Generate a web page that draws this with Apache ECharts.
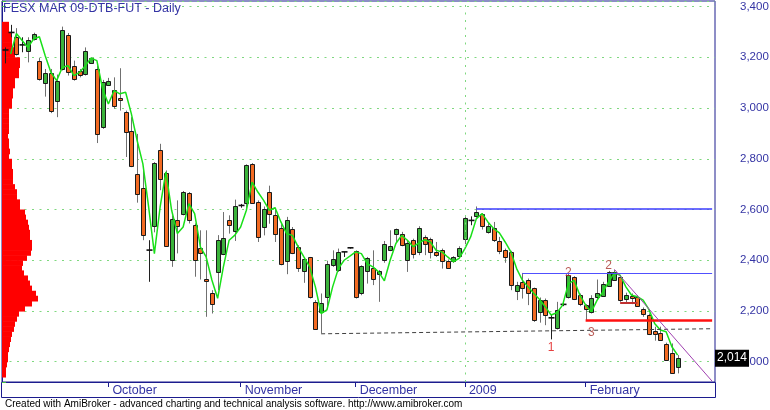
<!DOCTYPE html>
<html><head><meta charset="utf-8">
<script src="https://cdn.jsdelivr.net/npm/echarts@6/dist/echarts.min.js"></script>
<style>html,body{margin:0;padding:0;background:#fff}#c{width:770px;height:410px}</style>
</head><body><div id="c"></div>
<script>
// ---- categories (trading days + empty right margin) ----
const dates = [
'2008-09-05','2008-09-08','2008-09-09','2008-09-10','2008-09-11','2008-09-12','2008-09-15','2008-09-16','2008-09-17','2008-09-18','2008-09-19','2008-09-22','2008-09-23','2008-09-24','2008-09-25','2008-09-26','2008-09-29','2008-09-30',
'2008-10-01','2008-10-02','2008-10-03','2008-10-06','2008-10-07','2008-10-08','2008-10-09','2008-10-10','2008-10-13','2008-10-14','2008-10-15','2008-10-16','2008-10-17','2008-10-20','2008-10-21','2008-10-22','2008-10-23','2008-10-24','2008-10-27','2008-10-28','2008-10-29','2008-10-30','2008-10-31',
'2008-11-03','2008-11-04','2008-11-05','2008-11-06','2008-11-07','2008-11-10','2008-11-11','2008-11-12','2008-11-13','2008-11-14','2008-11-17','2008-11-18','2008-11-19','2008-11-20','2008-11-21','2008-11-24','2008-11-25','2008-11-26','2008-11-27','2008-11-28',
'2008-12-01','2008-12-02','2008-12-03','2008-12-04','2008-12-05','2008-12-08','2008-12-09','2008-12-10','2008-12-11','2008-12-12','2008-12-15','2008-12-16','2008-12-17','2008-12-18','2008-12-19','2008-12-22','2008-12-23','2008-12-29','2008-12-30',
'2009-01-02','2009-01-05','2009-01-06','2009-01-07','2009-01-08','2009-01-09','2009-01-12','2009-01-13','2009-01-14','2009-01-15','2009-01-16','2009-01-19','2009-01-20','2009-01-21','2009-01-22','2009-01-23','2009-01-26','2009-01-27','2009-01-28','2009-01-29','2009-01-30',
'2009-02-02','2009-02-03','2009-02-04','2009-02-05','2009-02-06','2009-02-09','2009-02-10','2009-02-11','2009-02-12','2009-02-13','2009-02-16','2009-02-17','2009-02-18','2009-02-19','2009-02-20','2009-02-23','2009-02-24',
'2009-02-25','2009-02-26','2009-02-27','2009-03-02','2009-03-03','2009-03-04'
];
// ---- OHLC ----
const opens = [3229,3298,3281,3249,3226,3272,3187,3098,3138,3030,3154,3289,3167,3148,3132,3178,3154,2925,3093,3072,3040,2984,2909,2739,2686,2440,2534,2836,2745,2403,2560,2584,2665,2538,2450,2328,2269,2354,2424,2560,2512,2616,2623,2780,2630,2531,2669,2577,2529,2394,2523,2453,2354,2411,2236,2197,2253,2380,2361,2433,2449,2436,2269,2354,2371,2345,2398,2439,2502,2505,2400,2479,2433,2492,2483,2433,2442,2398,2394,2420,2485,2557,2573,2581,2511,2528,2476,2442,2433,2279,2315,2321,2289,2197,2245,2173,2131,2226,2256,2332,2262,2223,2197,2253,2262,2298,2321,2334,2245,2258,2256,2206,2184,2122,2114,2070,2033,1978];
const highs = [3239,3328,3315,3279,3279,3297,3197,3154,3154,3132,3321,3296,3187,3154,3239,3200,3167,3111,3119,3121,3157,2990,2964,2898,2767,2479,2787,2859,2754,2577,2636,2673,2669,2545,2518,2518,2282,2499,2590,2577,2639,2622,2778,2783,2636,2612,2694,2607,2542,2571,2531,2459,2407,2413,2243,2269,2398,2439,2446,2433,2452,2439,2380,2413,2439,2361,2476,2518,2525,2512,2476,2485,2534,2498,2489,2472,2446,2403,2416,2455,2577,2573,2612,2586,2547,2551,2492,2446,2437,2315,2350,2328,2292,2253,2249,2184,2236,2240,2348,2337,2269,2227,2262,2324,2315,2358,2361,2341,2272,2269,2262,2214,2190,2138,2138,2075,2072,2026];
const lows = [3176,3279,3207,3220,3180,3266,3108,3045,2980,2964,3148,3128,3108,3121,3128,3174,2862,2918,3089,2997,2990,2807,2767,2627,2479,2315,2510,2676,2453,2374,2427,2577,2545,2335,2324,2177,2190,2282,2420,2505,2476,2607,2603,2623,2472,2498,2544,2472,2380,2345,2424,2354,2311,2249,2125,2112,2217,2374,2354,2413,2446,2249,2262,2308,2302,2236,2390,2436,2472,2455,2354,2407,2420,2420,2407,2413,2367,2367,2390,2416,2463,2538,2568,2521,2505,2472,2424,2390,2282,2243,2249,2223,2157,2154,2144,2088,2127,2219,2249,2243,2219,2164,2190,2245,2258,2295,2319,2236,2232,2227,2216,2177,2105,2083,2085,2004,1952,1954];
const closes = [3229,3298,3213,3249,3268,3292,3115,3137,2988,3108,3308,3145,3115,3132,3224,3197,2896,3102,3108,3010,3032,2905,2770,2662,2499,2440,2784,2721,2457,2564,2538,2669,2560,2400,2430,2322,2227,2479,2489,2542,2612,2616,2774,2626,2492,2603,2581,2502,2387,2557,2429,2371,2403,2253,2131,2232,2384,2403,2433,2433,2449,2253,2377,2407,2328,2358,2463,2455,2522,2463,2468,2424,2529,2463,2433,2420,2400,2371,2411,2450,2568,2557,2590,2534,2534,2481,2437,2416,2302,2302,2292,2269,2164,2245,2184,2173,2203,2226,2341,2245,2227,2206,2253,2269,2308,2354,2354,2243,2262,2249,2219,2188,2109,2109,2088,2007,1954,2014];
// ---- green moving-average line ----
const maLine = [null,3213,3294,3266,3239,3272,3281,3207,3141,3108,3161,3167,3128,3141,3167,3197,3187,3075,3016,3069,3056,3062,2977,2872,2780,2610,2426,2610,2748,2597,2505,2531,2623,2584,2453,2413,2322,2250,2374,2479,2499,2531,2597,2708,2669,2636,2597,2607,2551,2505,2498,2453,2413,2374,2295,2190,2204,2295,2367,2400,2416,2433,2426,2387,2374,2354,2319,2400,2466,2498,2479,2453,2468,2481,2472,2439,2433,2413,2394,2407,2446,2492,2564,2584,2551,2525,2508,2472,2433,2367,2321,2295,2269,2245,2216,2184,2193,2223,2308,2321,2262,2223,2197,2243,2275,2315,2350,2341,2295,2262,2256,2243,2206,2151,2125,2118,2059,2026];
// ---- axis labels ----
const monthStarts = ['2008-10-01','2008-11-03','2008-12-01','2009-01-02','2009-02-02'];
const monthNames = ['October','November','December','2009','February'];
const priceStep = 200;
// ---- volume-at-price profile (top price, bin size, relative volumes top->bottom) ----
const profileTop = 3340;
const profileBin = 20;
const profileVolumes = [7,7,10,10,10,13,13,18,18,17,17,13,13,11,11,10,10,7,7,7,7,7,6,7,7,8,7,10,10,11,11,11,13,15,15,18,18,23,24,26,27,28,28,30,30,29,25,21,20,22,26,28,30,34,36,30,23,17,15,13,12,10,9,8,7,6,6,5,4,4];
// ---- drawn study lines: [date, price] pairs ----
const blueHigh = [['2009-01-06',2604],['2009-03-04',2604]];
const blueMid = [['2009-01-16',2350],['2009-03-04',2350]];
const redSupport = [['2009-02-02',2164],['2009-03-04',2164]];
const shortLine = [['2009-02-10',2234],['2009-02-13',2234]];
const trendDown = [['2009-02-09',2364],['2009-03-04',1923]];
const dashedLow = [['2008-11-21',2110],['2009-03-04',2130]];
const pivotLabels = [['2009-01-23',2057,'1'],['2009-01-28',2349,'2'],['2009-02-06',2377,'2'],['2009-02-03',2114,'3']];
const pivotColors = ['#e01010','#a8322c','#a8322c','#a8322c'];

const navy = '#1c1c8e';
const labelBlue = '#3434a4';
const FONT = 'Liberation Sans, Arial, sans-serif';
const lastClose = closes[closes.length-1];

const chart = echarts.init(document.getElementById('c'), null, {renderer:'canvas'});

function seg(pair, style){
  return [{coord: pair[0], lineStyle: style}, {coord: pair[1]}];
}

chart.setOption({
  animation: false,
  backgroundColor: '#fff',
  title: {text: 'FESX MAR 09-DTB-FUT - Daily', left: 3, top: 2, padding: 0,
    textStyle: {fontSize: 12.5, fontWeight: 'normal', color: labelBlue, fontFamily: FONT}},
  grid: {left: 2, top: 1, width: 713, height: 381, show: true, borderColor: navy, borderWidth: 1,
    backgroundColor: '#fff', outerBoundsMode: 'none', containLabel: false},
  xAxis: [{
    type: 'category', data: dates, boundaryGap: true, gridIndex: 0,
    axisLine: {show: true, lineStyle: {color: navy}},
    axisTick: {show: true, alignWithLabel: true, length: 5, lineStyle: {color: navy},
      interval: (i, v) => monthStarts.indexOf(v) >= 0},
    axisLabel: {show: true, margin: 2, align: 'left', padding: [0,0,0,4], color: labelBlue,
      fontSize: 12.5, fontFamily: FONT,
      interval: (i, v) => monthStarts.indexOf(v) >= 0,
      formatter: v => { const k = monthStarts.indexOf(v); return k >= 0 ? monthNames[k] : ''; }},
    splitLine: {show: false}
  }, {
    type: 'value', gridIndex: 0, min: 0, max: 713, show: false, position: 'top'
  }],
  yAxis: [{
    type: 'value', position: 'right', min: 1920, max: 3422, splitNumber: 7, scale: true,
    axisLine: {show: true, lineStyle: {color: navy}},
    axisTick: {show: true, length: 4, lineStyle: {color: '#45c045'}},
    axisLabel: {margin: 25, color: labelBlue, fontSize: 11.5, fontFamily: FONT,
      formatter: v => (Math.round(v) % priceStep === 0) ? Math.round(v).toLocaleString('en-US') : ''},
    splitLine: {show: true, lineStyle: {color: '#7fd87f', type: [2, 5.5], width: 1}}
  }],
  graphic: [
    {type: 'rect', silent: true, shape: {x: 1.5, y: 382.5, width: 714, height: 15},
      style: {fill: 'none', stroke: navy, lineWidth: 1}},
    {type: 'text', left: 5, top: 399, silent: true,
      style: {text: 'Created with AmiBroker - advanced charting and technical analysis software. http://www.amibroker.com',
        fontSize: 10, fill: '#000', fontFamily: FONT}}
  ],
  series: [
    {
      type: 'custom', name: 'profile', xAxisIndex: 1, yAxisIndex: 0, z: 1, silent: true,
      data: profileVolumes.map((v, k) => [v, profileTop - k*profileBin, profileTop - (k+1)*profileBin]),
      encode: {x: 0, y: [1, 2]},
      renderItem: function(params, api){
        const p1 = api.coord([0, api.value(1)]);
        const p2 = api.coord([api.value(0), api.value(2)]);
        return {type: 'rect', shape: {x: p1[0], y: p1[1], width: p2[0]-p1[0], height: p2[1]-p1[1]+0.6},
          style: {fill: '#ff0000'}};
      }
    },
    {
      type: 'custom', name: 'candles', xAxisIndex: 0, yAxisIndex: 0, z: 2, clip: true,
      data: opens.map((o, i) => [i, o, closes[i], lows[i], highs[i]]),
      encode: {x: 0, y: [1, 2, 3, 4]},
      renderItem: function(params, api){
        const i = api.value(0), o = api.value(1), c = api.value(2), l = api.value(3), h = api.value(4);
        const pO = api.coord([i, o]), pC = api.coord([i, c]), pH = api.coord([i, h]), pL = api.coord([i, l]);
        const cx = Math.round(pO[0]) + 0.5;
        const ch = [];
        const doji = o === c;
        ch.push({type: 'line', shape: {x1: cx, y1: pH[1], x2: cx, y2: pL[1]},
          style: {stroke: doji ? '#202020' : '#707070', lineWidth: 1}});
        if (doji) {
          ch.push({type: 'line', shape: {x1: cx-3, y1: pO[1], x2: cx+3, y2: pO[1]},
            style: {stroke: '#111', lineWidth: 1.6}});
        } else {
          const top = Math.round(Math.min(pO[1], pC[1])) + 0.5;
          const hh = Math.max(1, Math.round(Math.abs(pO[1] - pC[1])));
          ch.push({type: 'rect', shape: {x: cx-2, y: top, width: 4, height: hh},
            style: {fill: c > o ? '#3bb33b' : '#f26a22', stroke: '#1a1a1a', lineWidth: 1}});
        }
        return {type: 'group', children: ch};
      }
    },
    {
      type: 'line', name: 'ma', xAxisIndex: 0, yAxisIndex: 0, z: 3, data: maLine,
      symbol: 'none', lineStyle: {color: '#19e019', width: 1.5}, connectNulls: false,
      markLine: {
        silent: true, symbol: ['none', 'none'], animation: false,
        label: {show: false},
        data: [
          {xAxis: '2009-01-02', lineStyle: {color: '#7fd87f', type: [2, 5.5], width: 1}},
          seg(dashedLow, {color: '#404040', type: [4, 3], width: 1}),
          seg(blueHigh, {color: '#3d3dff', type: 'solid', width: 1.5}),
          seg(blueMid, {color: '#5050ff', type: 'solid', width: 1.2}),
          seg(redSupport, {color: '#ff1010', type: 'solid', width: 2.5}),
          seg(shortLine, {color: '#c03030', type: 'solid', width: 2}),
          seg(trendDown, {color: '#a040b0', type: 'solid', width: 1})
        ]
      }
    },
    {
      type: 'line', name: 'last', xAxisIndex: 0, yAxisIndex: 0, z: 5, data: [],
      markLine: {
        silent: true, symbol: ['none', 'none'], animation: false,
        data: [{yAxis: lastClose, lineStyle: {color: 'rgba(0,0,0,0)', width: 1}}],
        label: {show: true, position: 'end', distance: 0, formatter: lastClose.toLocaleString('en-US'),
          backgroundColor: '#000', color: '#fff', padding: [3, 2, 2, 2], fontSize: 12, fontFamily: FONT}
      }
    },
    {
      type: 'scatter', name: 'pivots', xAxisIndex: 0, yAxisIndex: 0, z: 4, symbolSize: 0, silent: true,
      data: pivotLabels.map((p, k) => ({value: p, label: {color: pivotColors[k]}})),
      label: {show: true, position: 'inside', fontSize: 12, fontFamily: FONT, formatter: p => p.value[2]}
    }
  ]
});
</script>
</body></html>
